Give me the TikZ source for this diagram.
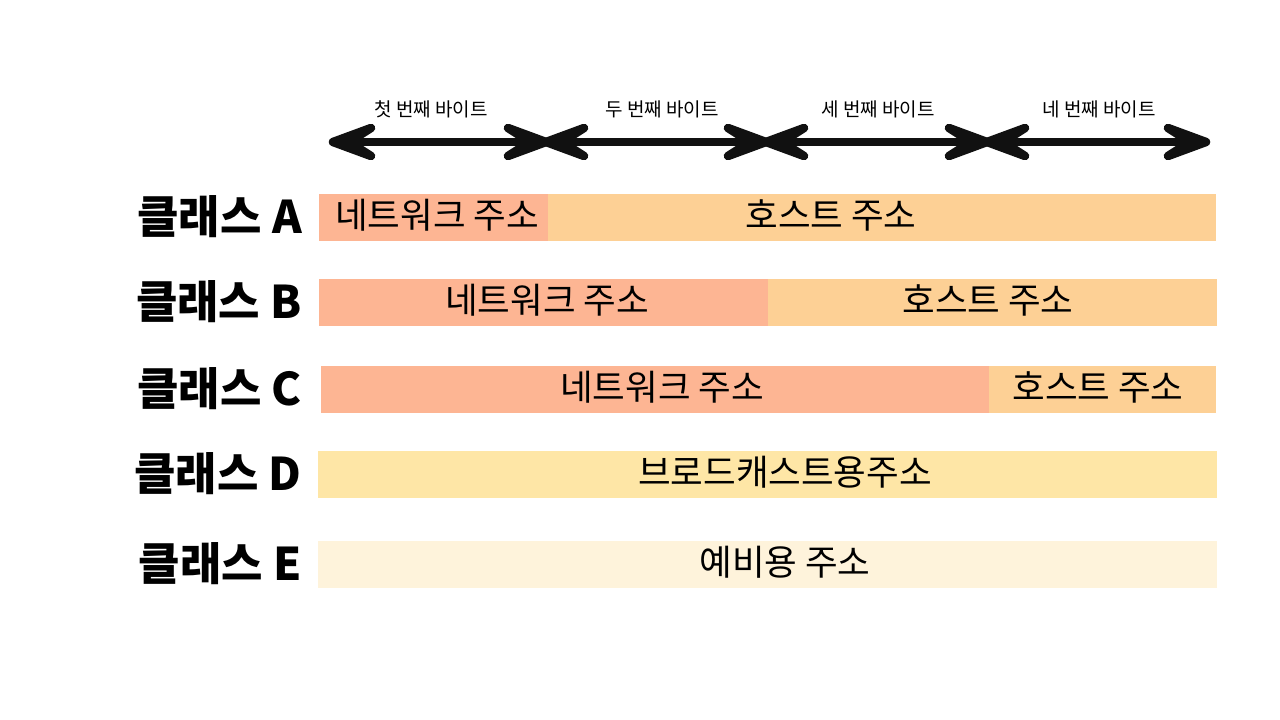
\documentclass[tikz,border=0pt]{standalone}
\usepackage{fontspec}
\setmainfont{Noto Sans CJK KR}
\definecolor{netc}{HTML}{FDB593}
\definecolor{hostc}{HTML}{FDD095}
\definecolor{bcastc}{HTML}{FEE6A6}
\definecolor{resc}{HTML}{FEF3DB}
\definecolor{ink}{HTML}{111111}
\tikzset{
  seg/.style={inner sep=0pt, outer sep=0pt, anchor=north west},
  segtext/.style={font=\fontsize{35.5}{35.5}\selectfont, inner sep=0pt},
  cls/.style={anchor=east, font=\bfseries\fontsize{45}{45}\selectfont, inner sep=0pt},
  bytelbl/.style={font=\fontsize{19}{19}\selectfont, inner sep=0pt},
  arr/.style={line width=7.5pt, line cap=round, line join=round, draw=ink},
  headsty/.style={line width=8.5pt, line cap=round, line join=round, draw=ink, fill=ink},
}
\newcommand{\dblarrow}[2]{%
  \draw[arr] ([xshift=10pt]#1) -- ([xshift=-10pt]#2);
  \filldraw[headsty] (#1) -- ([shift={(38pt,-14pt)}]#1) -- ([shift={(16pt,0pt)}]#1) -- ([shift={(38pt,14pt)}]#1) -- cycle;
  \filldraw[headsty] (#2) -- ([shift={(-38pt,-14pt)}]#2) -- ([shift={(-16pt,0pt)}]#2) -- ([shift={(-38pt,14pt)}]#2) -- cycle;
}
\begin{document}
\begin{tikzpicture}[x=1pt,y=-1pt]
\useasboundingbox[fill=white] (0,0) rectangle (1280,720);
% byte arrows
\coordinate (p0) at (333,142);
\coordinate (p1) at (546,142);
\coordinate (p2) at (766,142);
\coordinate (p3) at (987,142);
\coordinate (p4) at (1206,142);
\dblarrow{p0}{p1}
\dblarrow{p1}{p2}
\dblarrow{p2}{p3}
\dblarrow{p3}{p4}
\node[bytelbl] (b1) at (431,109) {첫 번째 바이트};
\node[bytelbl] (b2) at (662,109) {두 번째 바이트};
\node[bytelbl] (b3) at (878,109) {세 번째 바이트};
\node[bytelbl] (b4) at (1099,109) {네 번째 바이트};
% Class A
\node[seg, fill=netc, minimum width=229pt, minimum height=47pt] (an) at (319,194) {};
\node[seg, fill=hostc, minimum width=668pt, minimum height=47pt] (ah) at (548,194) {};
\node[segtext] (ant) at (437,215) {네트워크 주소};
\node[segtext] (aht) at (831,215) {호스트 주소};
\node[cls] (ca) at (302,217) {클래스 A};
% Class B
\node[seg, fill=netc, minimum width=449pt, minimum height=47pt] (bn) at (319,279) {};
\node[seg, fill=hostc, minimum width=449pt, minimum height=47pt] (bh) at (768,279) {};
\node[segtext] (bnt) at (547,300) {네트워크 주소};
\node[segtext] (bht) at (988,300) {호스트 주소};
\node[cls] (cb) at (302,302) {클래스 B};
% Class C
\node[seg, fill=netc, minimum width=668pt, minimum height=47pt] (cn) at (321,366) {};
\node[seg, fill=hostc, minimum width=227pt, minimum height=47pt] (chh) at (989,366) {};
\node[segtext] (cnt) at (662,387) {네트워크 주소};
\node[segtext] (cht) at (1098,387) {호스트 주소};
\node[cls] (cc) at (302,389) {클래스 C};
% Class D
\node[seg, fill=bcastc, minimum width=899pt, minimum height=47pt] (dn) at (318,451) {};
\node[segtext] (dnt) at (785,472) {브로드캐스트용주소};
\node[cls] (cd) at (302,474) {클래스 D};
% Class E
\node[seg, fill=resc, minimum width=899pt, minimum height=47pt] (en) at (318,541) {};
\node[segtext] (ent) at (785,562) {예비용 주소};
\node[cls] (ce) at (302,564) {클래스 E};
\end{tikzpicture}
\end{document}
